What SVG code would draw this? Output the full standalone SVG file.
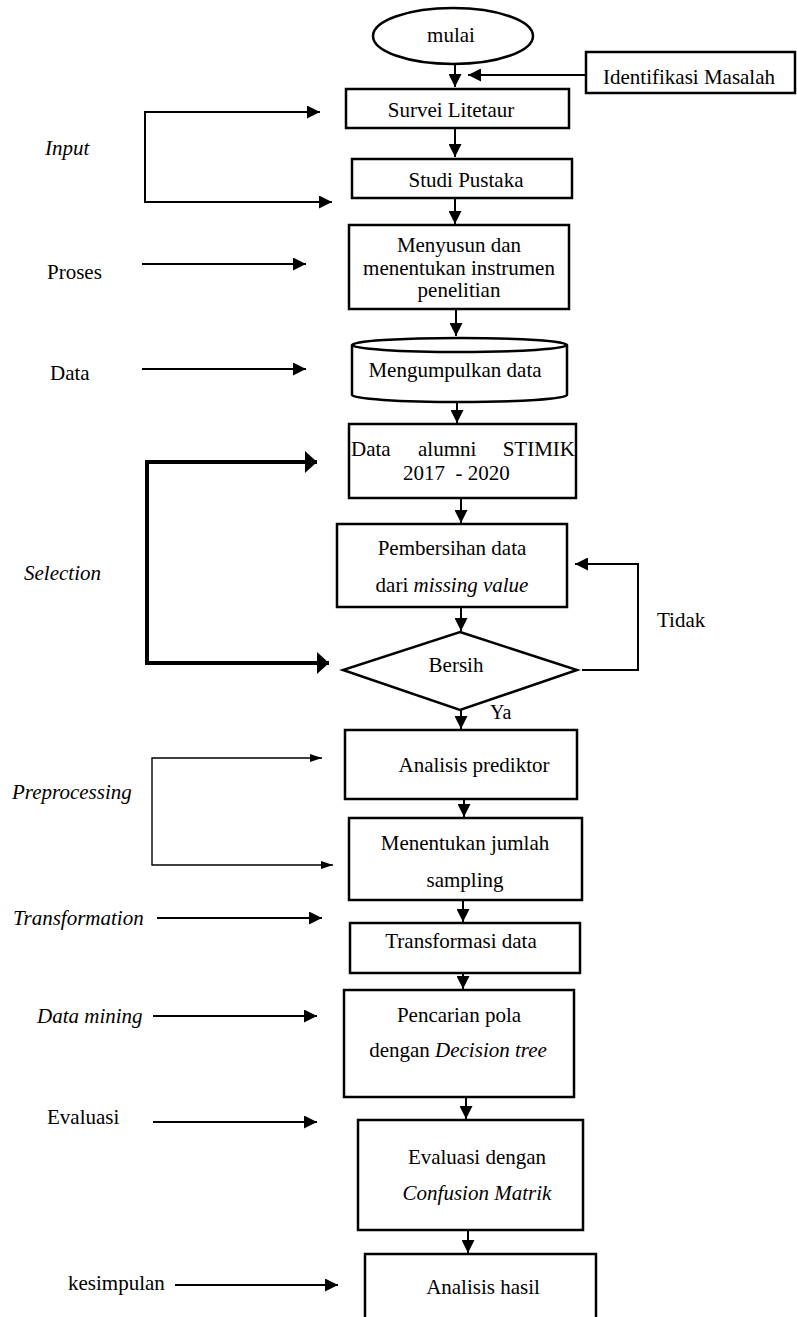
<svg xmlns="http://www.w3.org/2000/svg" width="797" height="1317" viewBox="0 0 797 1317">
  <style>
    text { font-family: "Liberation Serif", "DejaVu Serif", "Times New Roman", serif; font-size: 21px; fill: #000; }
    .it { font-style: italic; }
    .mid { text-anchor: middle; }
    .shape { fill: #fff; stroke: #000; stroke-width: 2.5; }
    .conn { fill: none; stroke: #000; stroke-width: 2; }
    .thick { fill: none; stroke: #000; stroke-width: 4; }
    .thin { fill: none; stroke: #000; stroke-width: 1.4; }
  </style>
  <defs>
    <marker id="ah" markerUnits="userSpaceOnUse" viewBox="0 0 13 13" refX="13" refY="6.5" markerWidth="13" markerHeight="13" orient="auto-start-reverse">
      <path d="M0,0 L13,6.5 L0,13 Z" fill="#000"/>
    </marker>
    <marker id="ahBig" markerUnits="userSpaceOnUse" viewBox="0 0 12 22" refX="12" refY="11" markerWidth="12" markerHeight="22" orient="auto-start-reverse">
      <path d="M0,0 L12,11 L0,22 Z" fill="#000"/>
    </marker>
    <marker id="ahSmall" markerUnits="userSpaceOnUse" viewBox="0 0 12 8" refX="12" refY="4" markerWidth="12" markerHeight="8" orient="auto-start-reverse">
      <path d="M0,0 L12,4 L0,8 Z" fill="#000"/>
    </marker>
  </defs>

  <!-- connectors -->
  <g id="connectors">
    <!-- main vertical flow -->
    <line class="conn" x1="455" y1="65" x2="455" y2="87" marker-end="url(#ah)"/>
    <line class="conn" x1="455" y1="128" x2="455" y2="157" marker-end="url(#ah)"/>
    <line class="conn" x1="455" y1="198" x2="455" y2="224" marker-end="url(#ah)"/>
    <line class="conn" x1="456" y1="309" x2="456" y2="336" marker-end="url(#ah)"/>
    <line class="conn" x1="457" y1="402" x2="457" y2="423" marker-end="url(#ah)"/>
    <line class="conn" x1="461" y1="498" x2="461" y2="523" marker-end="url(#ah)"/>
    <line class="conn" x1="461" y1="607" x2="461" y2="631" marker-end="url(#ah)"/>
    <line class="conn" x1="461" y1="710" x2="461" y2="729" marker-end="url(#ah)"/>
    <line class="conn" x1="464" y1="799" x2="464" y2="817" marker-end="url(#ah)"/>
    <line class="conn" x1="463" y1="900" x2="463" y2="922" marker-end="url(#ah)"/>
    <line class="conn" x1="463" y1="973" x2="463" y2="989" marker-end="url(#ah)"/>
    <line class="conn" x1="466" y1="1097" x2="466" y2="1119" marker-end="url(#ah)"/>
    <line class="conn" x1="468" y1="1230" x2="468" y2="1253" marker-end="url(#ah)"/>

    <!-- Identifikasi Masalah into the flow -->
    <line class="conn" x1="586" y1="75" x2="468" y2="75" marker-end="url(#ah)"/>

    <!-- Tidak loop back to cleaning -->
    <polyline class="conn" points="582,670 638,670 638,564 575,564" marker-end="url(#ah)"/>

    <!-- Input bracket -->
    <polyline class="conn" points="320,112 145,112 145,202 332,202" marker-start="url(#ah)" marker-end="url(#ah)"/>

    <!-- Selection bracket -->
    <polyline class="thick" points="317,462 147,462 147,663 329,663" marker-start="url(#ahBig)" marker-end="url(#ahBig)"/>

    <!-- Preprocessing bracket -->
    <polyline class="thin" points="322,758 152,758 152,865 333,865" marker-start="url(#ahSmall)" marker-end="url(#ahSmall)"/>

    <!-- stage label arrows -->
    <line class="conn" x1="142" y1="264" x2="306" y2="264" marker-end="url(#ah)"/>
    <line class="conn" x1="142" y1="369" x2="306" y2="369" marker-end="url(#ah)"/>
    <line class="conn" x1="157" y1="918" x2="322" y2="918" marker-end="url(#ah)"/>
    <line class="conn" x1="153" y1="1016" x2="317" y2="1016" marker-end="url(#ah)"/>
    <line class="conn" x1="153" y1="1122" x2="317" y2="1122" marker-end="url(#ah)"/>
    <line class="conn" x1="175" y1="1285" x2="338" y2="1285" marker-end="url(#ah)"/>
  </g>

  <!-- nodes -->
  <g id="mulai">
    <ellipse class="shape" cx="453" cy="36" rx="80" ry="28"/>
    <text class="mid" x="451" y="42">mulai</text>
  </g>
  <g id="identifikasi">
    <rect class="shape" x="586" y="52" width="209" height="41"/>
    <text x="603" y="84">Identifikasi Masalah</text>
  </g>
  <g id="survei">
    <rect class="shape" x="346" y="89" width="223" height="39"/>
    <text class="mid" x="451" y="117">Survei Litetaur</text>
  </g>
  <g id="studi">
    <rect class="shape" x="352" y="159" width="220" height="39"/>
    <text class="mid" x="466" y="187">Studi Pustaka</text>
  </g>
  <g id="menyusun">
    <rect class="shape" x="349" y="225" width="220" height="84"/>
    <text class="mid" x="459" y="252">Menyusun dan</text>
    <text class="mid" x="459" y="275">menentukan instrumen</text>
    <text class="mid" x="459" y="297">penelitian</text>
  </g>
  <g id="mengumpulkan">
    <path class="shape" d="M352,345 A107.5,7 0 0 1 567,345 V395 A107.5,7 0 0 1 352,395 Z"/>
    <path class="shape" fill="none" d="M352,345 A107.5,7 0 0 0 567,345"/>
    <text class="mid" x="455" y="377">Mengumpulkan data</text>
  </g>
  <g id="data-alumni">
    <rect class="shape" x="349" y="424" width="227" height="74"/>
    <text x="351" y="456">Data</text>
    <text x="418" y="456">alumni</text>
    <text x="575" y="456" text-anchor="end">STIMIK</text>
    <text x="403" y="480" xml:space="preserve">2017  - 2020</text>
  </g>
  <g id="pembersihan">
    <rect class="shape" x="337" y="524" width="230" height="83"/>
    <text class="mid" x="452" y="555">Pembersihan data</text>
    <text class="mid" x="452" y="592">dari <tspan class="it">missing value</tspan></text>
  </g>
  <g id="bersih">
    <polygon class="shape" points="460,632 577,670 460,710 343,670"/>
    <text class="mid" x="456" y="672">Bersih</text>
  </g>
  <g id="analisis-prediktor">
    <rect class="shape" x="345" y="730" width="232" height="69"/>
    <text class="mid" x="474" y="772">Analisis prediktor</text>
  </g>
  <g id="menentukan">
    <rect class="shape" x="349" y="818" width="233" height="82"/>
    <text class="mid" x="465" y="850">Menentukan jumlah</text>
    <text class="mid" x="465" y="887">sampling</text>
  </g>
  <g id="transformasi">
    <rect class="shape" x="350" y="923" width="230" height="50"/>
    <text class="mid" x="461" y="948">Transformasi data</text>
  </g>
  <g id="pencarian">
    <rect class="shape" x="344" y="990" width="230" height="107"/>
    <text class="mid" x="459" y="1022">Pencarian pola</text>
    <text class="mid" x="458" y="1057">dengan <tspan class="it">Decision tree</tspan></text>
  </g>
  <g id="evaluasi">
    <rect class="shape" x="358" y="1120" width="225" height="110"/>
    <text class="mid" x="477" y="1164">Evaluasi dengan</text>
    <text class="mid it" x="477" y="1200">Confusion Matrik</text>
  </g>
  <g id="analisis-hasil">
    <rect class="shape" x="365" y="1254" width="231" height="90"/>
    <text class="mid" x="483" y="1294">Analisis hasil</text>
  </g>

  <!-- edge labels -->
  <g id="edge-labels">
    <text x="657" y="627">Tidak</text>
    <text x="490" y="719" style="font-size:20px">Ya</text>
  </g>

  <!-- stage labels on the left -->
  <g id="stage-labels">
    <text class="it" x="45" y="155">Input</text>
    <text x="47" y="279">Proses</text>
    <text x="50" y="380">Data</text>
    <text class="it" x="24" y="580">Selection</text>
    <text class="it" x="12" y="799">Preprocessing</text>
    <text class="it" x="13" y="925">Transformation</text>
    <text class="it" x="37" y="1023">Data mining</text>
    <text x="47" y="1124">Evaluasi</text>
    <text x="68" y="1290">kesimpulan</text>
  </g>
</svg>
